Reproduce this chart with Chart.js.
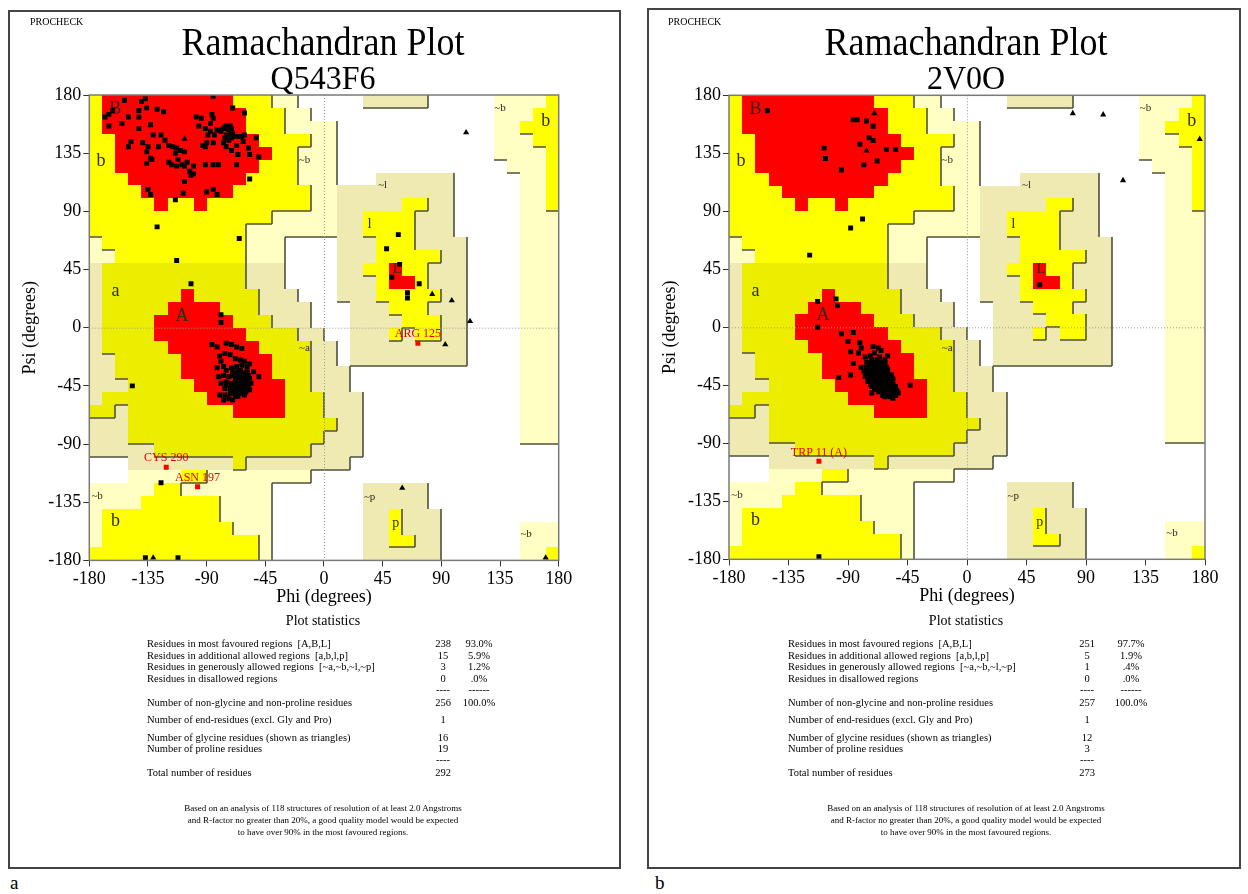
<!DOCTYPE html>
<html><head><meta charset="utf-8">
<script src="https://cdn.jsdelivr.net/npm/chart.js@4.4.1/dist/chart.umd.min.js"></script>
<style>
html,body{margin:0;padding:0;background:#fff;}
body{width:1248px;height:894px;position:relative;overflow:hidden;font-family:'Liberation Serif','Times New Roman',serif;color:#000;}
.panel{position:absolute;border:2px solid #444;box-sizing:border-box;}
.t{position:absolute;white-space:pre;line-height:1;}
canvas{position:absolute;top:0;}
</style></head><body>
<div class="panel" style="left:8px;top:10px;width:613px;height:859px"></div>
<div class="panel" style="left:647px;top:8px;width:594px;height:861px"></div>
<canvas id="c1" width="630" height="620" style="left:0"></canvas>
<canvas id="c2" width="618" height="620" style="left:630px"></canvas>
<div id="txt"></div>
<script>
// ---------- DATA ----------
const axisTicks = [-180, -135, -90, -45, 0, 45, 90, 135, 180];

// PROCHECK region map in 10-degree cells, run-length coded.
// Rows run psi 180 -> -180, each row lists phi -180 -> 180.
// "." disallowed, p / k generously allowed, y / o additionally allowed, R most favoured
const regionRuns = [
  "y1 R10 y3 p2 .5 k5 .5 p4 y1",
  "y1 R11 y3 p2 .14 p3 y2",
  "y1 R11 y3 p4 .12 p2 y3",
  "y2 R11 y4 p2 .12 p3 y2",
  "y2 R12 y2 p3 .12 p4 y1",
  "y2 R11 y3 p3 .13 p3 y1",
  "y3 R9 y4 p3 .3 k6 .5 p2 y1",
  "y4 R7 y6 p2 k9 .5 p2 y1",
  "y5 R1 y2 R1 y8 p2 k5 y2 k2 .5 p2 y1",
  "y14 p5 k2 y4 k3 .5 p3",
  "y12 p7 k2 y4 k3 .5 p3",
  "p1 y11 p3 .4 k3 y3 k4 .4 p3",
  "p2 y10 p3 .4 k3 y5 k2 .4 p3",
  "k1 o11 k3 .4 k2 y2 R1 y2 k3 .4 p3",
  "k1 o11 k3 .4 k3 y1 R2 y1 k3 .4 p3",
  "k1 o6 R1 o5 k3 .3 k3 y5 k2 .4 p3",
  "k1 o5 R4 o3 k4 .3 k3 y3 k3 .4 p3",
  "k1 o4 R6 o3 k3 .3 k4 y3 k2 .4 p3",
  "k1 o4 R7 o4 k2 .2 k3 y1 k1 y2 k2 .4 p3",
  "k1 o5 R7 o4 k2 .1 k9 .4 p3",
  "k2 o5 R7 o3 k2 .1 k9 .4 p3",
  "k2 o5 R7 o3 k3 .13 p3",
  "k3 o5 R7 o2 k3 .13 p3",
  "k1 o8 R6 o3 k3 .12 p3",
  "o2 k1 o8 R4 o3 k3 .12 p3",
  "k3 o16 k2 .12 p3",
  "k3 o15 k3 .12 p3",
  "k5 o12 k4 .15",
  ".3 k8 o1 k8 .16",
  ".3 p4 y2 p8 .19",
  "p5 y2 p7 .7 k5 .10",
  "p4 y6 p4 .7 k5 .10",
  "p1 y9 p4 .7 k2 y1 k3 .9",
  "p1 y10 p3 .7 k2 y1 k3 .6 p3",
  "p1 y12 p1 .7 k2 y2 k2 .6 p3",
  "y13 p1 .7 k6 .6 p2 y1"
];

const regionLabelText = ["B","b","~b","a","A","~a","~b","b","~l","l","L","~b","b","~p","p","~b"];
const regionLabelPos = [[-160,169],[-171,129],[-15,130],[-160,28],[-109,9],[-15,-16],[-174,-130],[-160,-150],
  [45,110],[35,80],[56,45],[135,170],[170,160],[35,-131],[55,-151],[155,-160]];

const leftResidues = [
  [-168,163],[-165,165],[-162,168],[-153,176],[-165,156],[-155,158],[-150,163],[-142,163],[-142,168],[-140,175],
  [-137,177],[-136,170],[-128,169],[-123,167],[-142,154],[-133,157],[-131,149],[-125,149],[-122,145],[-150,140],
  [-148,144],[-139,143],[-135,140],[-136,136],[-133,131],[-136,127],[-132,130],[-127,140],[-119,141],[-116,140],
  [-113,139],[-114,135],[-110,137],[-107,136],[-112,130],[-119,128],[-117,126],[-113,125],[-109,126],[-107,125],
  [-105,128],[-103,121],[-102,118],[-100,119],[-107,113],[-100,125],[-98,163],[-96,156],[-94,162],[-91,154],
  [-86,165],[-85,162],[-87,158],[-87,152],[-89,149],[-93,141],[-91,140],[-90,143],[-85,143],[-84,149],
  [-82,153],[-80,153],[-79,152],[-77,154],[-76,155],[-75,156],[-73,153],[-72,156],[-71,154],[-70,150],
  [-72,149],[-75,149],[-76,147],[-73,145],[-71,147],[-70,148],[-67,148],[-64,148],[-63,148],[-61,149],
  [-58,139],[-67,141],[-66,134],[-62,144],[-52,147],[-57,134],[-50,132],[-70,170],[-61,166],[-75,140],
  [-77,143],[-71,137],[-81,126],[-85,126],[-91,126],[-67,126],[-57,115],[-135,107],[-133,103],[-108,104],
  [-90,105],[-85,107],[-82,103],[-114,99],[-128,78],[-65,69],[-113,52],[-102,34],[-79,10],[-79,4],[-85,179],
  [-86,-13],[-82,-15],[-75,-12],[-71,-13],[-67,-15],[-63,-16],[-80,-22],[-79,-26],[-76,-20],[-72,-21],
  [-68,-24],[-64,-25],[-61,-26],[-57,-28],[-82,-31],[-77,-30],[-75,-33],[-71,-31],[-67,-30],[-63,-29],
  [-59,-30],[-81,-38],[-77,-37],[-73,-38],[-70,-37],[-66,-35],[-62,-35],[-58,-37],[-54,-34],[-50,-38],
  [-79,-43],[-75,-42],[-71,-43],[-67,-42],[-63,-40],[-59,-42],[-56,-43],[-76,-47],[-72,-47],[-68,-46],
  [-64,-47],[-61,-47],[-57,-48],[-80,-52],[-76,-52],[-72,-51],[-68,-51],[-64,-51],[-61,-52],[-77,-56],
  [-73,-55],[-70,-56],[-66,-53],[-62,-49],[-67,-34],[-64,-33],[-61,-38],[-65,-39],[-62,-43],[-60,-45],
  [-66,-44],[-68,-40],[-59,-48],[-63,-49],[-67,-48],[-70,-34],[-59,-34],[-57,-39],[-68,-53],[-71,-48],
  [-75,-44],[-66,-38],
  [-66,-41],[-63,-45],[-60,-39],[-64,-36],[-68,-43],[-70,-45],[-62,-47],[-65,-50],[-69,-49],[-58,-44],
  [-61,-41],[-66,-46],[-63,-38],[-67,-37],[-60,-50],[-64,-43],
  [57,72],[48,61],[58,49],[52,39],[73,34],[64,27],[64,23],[-137,-178],[-112,-178],[-147,-45],[-125,-120]
];
const leftGlycines = [[-107,146],[109,151],[83,26],[98,21],[112,5],[93,-13],[60,-124],[170,-178],[-131,-178]];
const leftFlagged = [[-121,-108],[-97,-123],[72,-12]];
const leftFlaggedNames = ["CYS 290","ASN 197","ARG 125"];

const rightResidues = [
  [-151,168],[-86,161],[-83,161],[-76,160],[-71,156],[-74,147],[-71,145],[-81,142],[-61,138],[-54,138],
  [-108,139],[-107,131],[-95,122],[-78,126],[-68,129],[-79,84],[-88,77],[-119,56],[-113,20],[-99,22],
  [-98,17],[-113,0],
  [-95,-5],[-86,-4],[-90,-11],[-81,-12],[-88,-19],[-86,-28],[-97,-39],[-88,-37],[-60,-22],[-43,-45],
  [-72,-51],[-82,-20],[-80,-16],[-71,-15],[-67,-16],[-65,-18],
  [-77,-23],[-73,-22],[-70,-20],[-66,-23],[-62,-25],[-76,-27],[-72,-25],[-68,-25],[-65,-27],[-80,-31],
  [-76,-31],[-72,-30],[-68,-29],[-65,-31],[-61,-31],[-78,-34],[-75,-34],[-71,-34],[-67,-33],[-63,-34],
  [-60,-35],[-77,-38],[-73,-38],[-70,-38],[-66,-38],[-62,-39],[-58,-40],[-75,-42],[-71,-42],[-67,-41],
  [-63,-43],[-60,-43],[-56,-44],[-72,-46],[-68,-46],[-65,-47],[-61,-47],[-57,-48],[-53,-49],[-67,-50],
  [-63,-51],[-60,-51],[-56,-52],[-52,-51],[-62,-54],[-58,-54],[-54,-53],[-70,-32],[-67,-36],[-70,-40],
  [-64,-45],[-60,-41],[-57,-37],[-68,-27],[-73,-36],
  [-74,-28],[-70,-27],[-66,-29],[-62,-28],[-74,-32],[-69,-31],[-64,-32],[-60,-33],[-76,-36],[-72,-35],
  [-68,-35],[-64,-36],[-60,-38],[-56,-40],[-74,-40],[-70,-41],[-66,-40],[-62,-41],[-58,-42],[-73,-44],
  [-69,-44],[-65,-43],[-61,-44],[-57,-45],[-54,-46],[-70,-48],[-66,-48],[-62,-49],[-58,-50],[-55,-49],
  [-64,-53],[-60,-53],[-56,-55],[-68,-30],[-63,-37],[-59,-46],[-71,-27],[-65,-42],[-61,-36],[-67,-45],
  [55,33],[-112,-178]
];
const rightGlycines = [[-70,166],[-76,137],[80,166],[103,165],[118,114],[176,146]];
const rightFlagged = [[-112,-104]];
const rightFlaggedNames = ["TRP 11 (A)"];

const statLabels = [
  "Residues in most favoured regions  [A,B,L]",
  "Residues in additional allowed regions  [a,b,l,p]",
  "Residues in generously allowed regions  [~a,~b,~l,~p]",
  "Residues in disallowed regions",
  "",
  "Number of non-glycine and non-proline residues",
  "Number of end-residues (excl. Gly and Pro)",
  "Number of glycine residues (shown as triangles)",
  "Number of proline residues",
  "",
  "Total number of residues"
];
const leftCounts = ["238","15","3","0","----","256","1","16","19","----","292"];
const leftPercents = ["93.0%","5.9%","1.2%",".0%","------","100.0%","","","","",""];
const rightCounts = ["251","5","1","0","----","257","1","12","3","----","273"];
const rightPercents = ["97.7%","1.9%",".4%",".0%","------","100.0%","","","","",""];
const footnoteLines = [
  "Based on an analysis of 118 structures of resolution of at least 2.0 Angstroms",
  "and R-factor no greater than 20%, a good quality model would be expected",
  "to have over 90% in the most favoured regions."
];

// decode region map
const regionRows = regionRuns.map(s => s.split(' ').map(tok => tok[0].repeat(parseInt(tok.slice(1), 10))).join(''));

// ---------- TEXT ----------
const txt = document.getElementById('txt');
function addText(s, x, base, size, align, scaleY) {
  const el = document.createElement('div');
  el.className = 't';
  el.textContent = s;
  el.style.fontSize = size + 'px';
  el.style.top = (base - 0.84 * size) + 'px';
  el.style.left = x + 'px';
  let tf = '';
  if (align === 'center') tf += 'translateX(-50%) ';
  if (scaleY) { tf += 'scaleY(' + scaleY + ')'; el.style.transformOrigin = '50% 84%'; }
  if (tf) el.style.transform = tf;
  txt.appendChild(el);
}
const rowCenters = [644,656,667.5,679,690,703,720.5,738,749.5,760.5,773];
function panelText(cx, procX, code, labelX, countX, pctX, counts, pcts, letter, letterX) {
  addText("PROCHECK", procX, 25, 10, 'left');
  addText("Ramachandran Plot", cx, 55, 36, 'center', 1.1);
  addText(code, cx, 89, 32, 'center', 1.05);
  addText("Plot statistics", cx, 626, 14, 'center');
  rowCenters.forEach((c, i) => {
    const b = c + 3.5;
    if (statLabels[i]) addText(statLabels[i], labelX, b, 10.5, 'left');
    if (counts[i]) addText(counts[i], countX, b, 10.5, 'center');
    if (pcts[i]) addText(pcts[i], pctX, b, 10.5, 'center');
  });
  footnoteLines.forEach((s, i) => addText(s, cx, 812 + i * 11.8, 9, 'center'));
  addText(letter, letterX, 889, 19, 'left');
}
panelText(323, 30, "Q543F6", 147, 443, 479, leftCounts, leftPercents, "a", 10);
panelText(966, 668, "2V0O", 788, 1087, 1131, rightCounts, rightPercents, "b", 655);

// ---------- CHART ----------
const regionColors = { '.': null, p: '#FFFFC4', k: '#EEEAB2', y: '#FFFF00', o: '#EDED00', R: '#FF0000' };
const levelOf = { '.': 0, p: 1, k: 1, y: 2, o: 2, R: 2 };
function cellCode(r, c) { const row = regionRows[r] || ''; return row[c] || '.'; }

function labelFont(t) {
  if (t === 'A' || t === 'B' || t === 'a' || t === 'b') return 18;
  if (t === 'L' || t === 'l') return 15;
  if (t === 'p') return 14;
  return 11;
}

function makeRegionPlugin(flagged, flaggedNames) {
  return {
    id: 'regions',
    beforeDatasetsDraw(chart) {
      const { ctx, chartArea: a, scales: { x, y } } = chart;
      ctx.save();
      const px = v => Math.round(x.getPixelForValue(v));
      const py = v => Math.round(y.getPixelForValue(v));
      for (let r = 0; r < 36; r++) {
        for (let c = 0; c < 36; c++) {
          const col = regionColors[cellCode(r, c)];
          if (!col) continue;
          const x0 = px(-180 + 10 * c), x1 = px(-170 + 10 * c);
          const y0 = py(180 - 10 * r), y1 = py(170 - 10 * r);
          ctx.fillStyle = col;
          ctx.fillRect(x0, y0, x1 - x0, y1 - y0);
        }
      }
      ctx.strokeStyle = '#50503c';
      ctx.lineWidth = 1.6;
      ctx.beginPath();
      for (let r = 0; r < 36; r++) {
        for (let c = 0; c < 36; c++) {
          const L = levelOf[cellCode(r, c)];
          if (!L) continue;
          const x0 = px(-180 + 10 * c), x1 = px(-170 + 10 * c);
          const y0 = py(180 - 10 * r), y1 = py(170 - 10 * r);
          if (c < 35 && levelOf[cellCode(r, c + 1)] < L) { ctx.moveTo(x1, y0); ctx.lineTo(x1, y1); }
          if (r < 35 && levelOf[cellCode(r + 1, c)] < L) { ctx.moveTo(x0, y1); ctx.lineTo(x1, y1); }
        }
      }
      ctx.stroke();
      ctx.strokeStyle = '#9a9a9a';
      ctx.lineWidth = 1;
      ctx.setLineDash([1, 2]);
      ctx.beginPath();
      const zx = x.getPixelForValue(0) + 0.5, zy = y.getPixelForValue(0) + 0.5;
      ctx.moveTo(zx, a.top); ctx.lineTo(zx, a.bottom);
      ctx.moveTo(a.left, zy); ctx.lineTo(a.right, zy);
      ctx.stroke();
      ctx.setLineDash([]);
      ctx.fillStyle = '#2b2b1e';
      ctx.textAlign = 'center';
      ctx.textBaseline = 'middle';
      regionLabelText.forEach((t, i) => {
        ctx.font = labelFont(t) + "px 'Liberation Serif', serif";
        ctx.fillText(t, x.getPixelForValue(regionLabelPos[i][0]), y.getPixelForValue(regionLabelPos[i][1]));
      });
      ctx.restore();
    },
    afterDatasetsDraw(chart) {
      const { ctx, chartArea: a, scales: { x, y } } = chart;
      ctx.save();
      ctx.strokeStyle = '#7a7a7a';
      ctx.lineWidth = 1.5;
      ctx.strokeRect(a.left, a.top, a.right - a.left, a.bottom - a.top);
      ctx.fillStyle = '#e00000';
      ctx.font = "12px 'Liberation Serif', serif";
      ctx.textAlign = 'center';
      ctx.textBaseline = 'middle';
      flagged.forEach((p, i) => {
        ctx.fillText(flaggedNames[i], x.getPixelForValue(p[0]), y.getPixelForValue(p[1]) - 9);
      });
      ctx.restore();
    }
  };
}

function axis(title, horizontal, fitSize) {
  return {
    type: 'linear', min: -180, max: 180,
    afterBuildTicks: s => { s.ticks = axisTicks.map(v => ({ value: v })); },
    ticks: { font: { family: "'Liberation Serif', serif", size: 18 }, color: '#000', padding: 2, autoSkip: false, maxRotation: 0 },
    grid: { drawOnChartArea: false, drawTicks: true, tickLength: 6, tickColor: '#333', tickWidth: 1, color: '#333' },
    border: { display: false },
    title: { display: true, text: title, color: '#000', font: { family: "'Liberation Serif', serif", size: 18 },
      padding: horizontal ? { top: 0, bottom: 2 } : { top: 4, bottom: 0 } },
    afterFit: s => { if (horizontal) s.height = fitSize; else s.width = fitSize; }
  };
}

function makeChart(id, residues, gly, flagged, names, pad, yWidth) {
  new Chart(document.getElementById(id), {
    type: 'scatter',
    data: {
      datasets: [
        { data: residues.map(p => ({ x: p[0], y: p[1] })), pointStyle: 'rect', radius: 3.5, backgroundColor: '#000', borderColor: '#000', borderWidth: 0 },
        { data: gly.map(p => ({ x: p[0], y: p[1] })), pointStyle: 'triangle', radius: 3.6, backgroundColor: '#000', borderColor: '#000', borderWidth: 0 },
        { data: flagged.map(p => ({ x: p[0], y: p[1] })), pointStyle: 'rect', radius: 3.5, backgroundColor: '#ff0000', borderColor: '#ff0000', borderWidth: 0 }
      ]
    },
    options: {
      responsive: false, animation: false, events: [],
      layout: { padding: pad },
      plugins: { legend: { display: false }, tooltip: { enabled: false }, title: { display: false } },
      scales: { x: axis('Phi (degrees)', true, 50), y: axis('Psi (degrees)', false, yWidth) }
    },
    plugins: [makeRegionPlugin(flagged, names)]
  });
}

makeChart('c1', leftResidues, leftGlycines, leftFlagged, leftFlaggedNames,
  { top: 95, left: 15, right: 71.3, bottom: 9.6 }, 74.3);
makeChart('c2', rightResidues, rightGlycines, rightFlagged, rightFlaggedNames,
  { top: 95.3, left: 25, right: 43, bottom: 10.7 }, 74);
</script>
</body></html>
